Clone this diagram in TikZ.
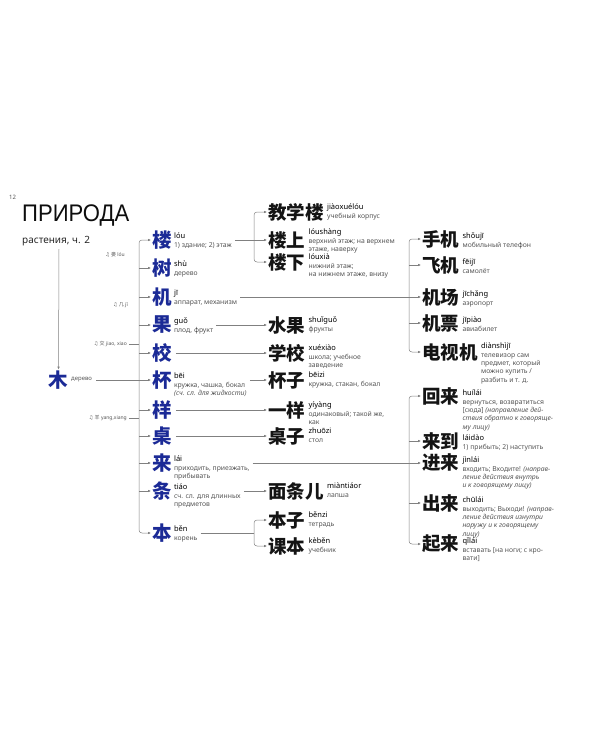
\documentclass[tikz,border=0pt]{standalone}
\usepackage{fontspec}
\setmainfont{Noto Sans}
\newfontfamily\cjk{Noto Sans CJK SC}
\newfontfamily\symf{DejaVu Sans}
\newfontfamily\titlef[FakeStretch=0.92]{Liberation Sans}
\usetikzlibrary{arrows.meta,calc}
\definecolor{zblue}{HTML}{1B2A96}
\definecolor{gtext}{HTML}{555555}
\definecolor{lgray}{HTML}{808080}
\newcommand{\py}[1]{{\color{black}\fontsize{7.5}{8.3}\selectfont #1}}
\newcommand{\note}{{\symf ♫}}
\begin{document}
\begin{tikzpicture}[x=1pt,y=-1pt,
  lc/.style={font=\cjk\bfseries\fontsize{19.5}{20}\selectfont, text=zblue, inner sep=0pt, anchor=west},
  mc/.style={font=\cjk\bfseries\fontsize{18.5}{18.5}\selectfont, text=black!92, inner sep=0pt, anchor=west},
  gl/.style={anchor=north west, inner sep=0pt, align=left, text=gtext, font=\fontsize{6.8}{8.3}\selectfont},
  conn/.style={draw=lgray, line width=0.5pt},
  arr/.style={-{Latex[length=3pt,width=2.6pt]}, shorten >=1pt},
  rc/.style={rounded corners=3pt},
  ann/.style={anchor=east, inner sep=0pt, text=gtext, font=\fontsize{5}{6}\selectfont}]
\useasboundingbox (0,0) rectangle (600,750);

% header
\node[anchor=base west, inner sep=0pt, text=gtext, font=\fontsize{6}{6}\selectfont] (pnum) at (9,199) {12};
\node[anchor=north west, inner sep=0pt, text=black!95, font=\titlef\fontsize{24}{24}\selectfont] (title) at (22,205) {ПРИРОДА};
\node[anchor=base west, inner sep=0pt, text=black!85, font=\fontsize{10}{10}\selectfont] (sub) at (22,243) {растения, ч. 2};

% root
\node[lc, anchor=center] (mu) at (58.5,380) {木};
\node[anchor=west, inner sep=0pt, text=gtext, font=\fontsize{6}{6}\selectfont] (dg) at (71,380) {дерево};
\coordinate (tstart) at (59,249);

% left column
\node[lc] (lou) at (152,240) {楼};
\node[lc] (shu) at (152,268) {树};
\node[lc] (ji) at (152,297) {机};
\node[lc] (guo) at (152,325) {果};
\node[lc] (xiao) at (152,353) {校};
\node[lc] (bei) at (152,380) {杯};
\node[lc] (yang) at (152,410) {样};
\node[lc] (zhuo) at (152,436) {桌};
\node[lc] (lai) at (152,463) {来};
\node[lc] (tiao) at (152,491) {条};
\node[lc] (ben) at (152,533) {本};

\node[gl] (glou) at ($(lou.east)+(2,-7)$) {\py{lóu}\\1) здание; 2) этаж};
\node[gl] (gshu) at ($(shu.east)+(2,-7)$) {\py{shù}\\дерево};
\node[gl] (gji) at ($(ji.east)+(2,-7)$) {\py{jī}\\аппарат, механизм};
\node[gl] (gguo) at ($(guo.east)+(2,-7)$) {\py{guǒ}\\плод, фрукт};
\node[gl] (gbei) at ($(bei.east)+(2,-7)$) {\py{bēi}\\кружка, чашка, бокал\\\textit{(сч. сл. для жидкости)}};
\node[gl] (glai) at ($(lai.east)+(2,-7)$) {\py{lái}\\приходить, приезжать,\\прибывать};
\node[gl] (gtiao) at ($(tiao.east)+(2,-7)$) {\py{tiáo}\\сч. сл. для длинных\\предметов};
\node[gl] (gben) at ($(ben.east)+(2,-7)$) {\py{běn}\\корень};

% phonetic notes
\node[ann] (alou) at (125,255) {\note\ {\cjk 娄} lóu};
\node[ann] (aji) at (128,305) {\note\ {\cjk 几} jī};
\node[ann] (ajiao) at (127,344) {\note\ {\cjk 交} jiao, xiao};
\node[ann] (ayang) at (127,418) {\note\ {\cjk 羊} yang,xiang};

% middle column
\node[mc] (jxl) at (268,212) {教学楼};
\node[mc] (lsh) at (268,240) {楼上};
\node[mc] (lx) at (268,262) {楼下};
\node[mc] (sg) at (268,325) {水果};
\node[mc] (xx) at (268,353) {学校};
\node[mc] (bz) at (268,380) {杯子};
\node[mc] (yy) at (268,410) {一样};
\node[mc] (zz) at (268,436) {桌子};
\node[mc] (mt) at (268,491) {面条儿};
\node[mc] (bzi) at (268,520) {本子};
\node[mc] (kb) at (268,546) {课本};

\node[gl] (gjxl) at ($(jxl.east)+(3,-8)$) {\py{jiàoxuélóu}\\учебный корпус};
\node[gl] (glsh) at ($(lsh.east)+(3,-11)$) {\py{lóushàng}\\верхний этаж; на верхнем\\этаже, наверху};
\node[gl] (glx) at ($(lx.east)+(3,-8)$) {\py{lóuxià}\\нижний этаж;\\на нижнем этаже, внизу};
\node[gl] (gsg) at ($(sg.east)+(3,-8)$) {\py{shuǐguǒ}\\фрукты};
\node[gl] (gxx) at ($(xx.east)+(3,-8)$) {\py{xuéxiào}\\школа; учебное\\заведение};
\node[gl] (gbz) at ($(bz.east)+(3,-8)$) {\py{bēizi}\\кружка, стакан, бокал};
\node[gl] (gyy) at ($(yy.east)+(3,-8)$) {\py{yíyàng}\\одинаковый; такой же,\\как};
\node[gl] (gzz) at ($(zz.east)+(3,-8)$) {\py{zhuōzi}\\стол};
\node[gl] (gmt) at ($(mt.east)+(3,-8)$) {\py{miàntiáor}\\лапша};
\node[gl] (gbzi) at ($(bzi.east)+(3,-8)$) {\py{běnzi}\\тетрадь};
\node[gl] (gkb) at ($(kb.east)+(3,-8)$) {\py{kèběn}\\учебник};

% right column
\node[mc] (sj) at (422,239) {手机};
\node[mc] (fj) at (422,265) {飞机};
\node[mc] (jc) at (422,297) {机场};
\node[mc] (jp) at (422,323) {机票};
\node[mc] (dsj) at (422,352) {电视机};
\node[mc] (hl) at (422,396) {回来};
\node[mc] (ld) at (422,441) {来到};
\node[mc] (jl) at (422,463) {进来};
\node[mc] (cl) at (422,503) {出来};
\node[mc] (ql) at (422,544) {起来};

\node[gl] (gsj) at ($(sj.east)+(3,-6)$) {\py{shǒujī}\\мобильный телефон};
\node[gl] (gfj) at ($(fj.east)+(3,-6)$) {\py{fēijī}\\самолёт};
\node[gl] (gjc) at ($(jc.east)+(3,-6)$) {\py{jīchǎng}\\аэропорт};
\node[gl] (gjp) at ($(jp.east)+(3,-6)$) {\py{jīpiào}\\авиабилет};
\node[gl] (gdsj) at ($(dsj.east)+(3,-9)$) {\py{diànshìjī}\\телевизор сам\\предмет, который\\можно купить /\\разбить и т. д.};
\node[gl] (ghl) at ($(hl.east)+(3,-6)$) {\py{huílái}\\вернуться, возвратиться\\{}[сюда] \textit{(направление дей-}\\\textit{ствия обратно к говоряще-}\\\textit{му лицу)}};
\node[gl] (gld) at ($(ld.east)+(3,-6)$) {\py{láidào}\\1) прибыть; 2) наступить};
\node[gl] (gjl) at ($(jl.east)+(3,-6)$) {\py{jìnlái}\\входить; Входите! \textit{(направ-}\\\textit{ление действия внутрь}\\\textit{и к говорящему лицу)}};
\node[gl] (gcl) at ($(cl.east)+(3,-6)$) {\py{chūlái}\\выходить; Выходи! \textit{(направ-}\\\textit{ление действия изнутри}\\\textit{наружу и к говорящему}\\\textit{лицу)}};
\node[gl] (gql) at ($(ql.east)+(3,-6)$) {\py{qǐlái}\\вставать [на ноги; с кро-\\вати]};

% bracket junctions
\coordinate (LB) at (139,380);
\coordinate (MB1) at (254,240);
\coordinate (MB2) at (254,533);
\coordinate (RB1) at (409,297);
\coordinate (RB2) at (409,463);

% connectors: root
\draw[conn,arr] (tstart) -- (mu.north);
\draw[conn,arr] (dg.east) ++(4,0) -- (bei.west);

% left bracket
\draw[conn,arr,rc] (LB) |- (lou.west);
\draw[conn,arr,rc] (LB) |- (ben.west);
\foreach \n in {shu,ji,guo,xiao,yang,zhuo,lai,tiao}
  \draw[conn,arr] (LB |- \n.west) -- (\n.west);
\draw[conn] (ajiao.east) ++(2,0) -- (LB |- ajiao.east);
\draw[conn] (ayang.east) ++(2,0) -- (LB |- ayang.east);

% left to middle
\draw[conn,arr] (glou.east |- lou.west) ++(3,0) -- (lsh.west);
\draw[conn,arr,rc] (MB1) |- (jxl.west);
\draw[conn,arr,rc] (MB1) |- (lx.west);
\draw[conn,arr] (gguo.east |- guo.west) ++(3,0) -- (sg.west);
\draw[conn,arr] (xiao.east) ++(4,0) -- (xx.west);
\draw[conn,arr] (gbei.east |- bei.west) ++(3,0) -- (bz.west);
\draw[conn,arr] (yang.east) ++(4,0) -- (yy.west);
\draw[conn,arr] (zhuo.east) ++(4,0) -- (zz.west);
\draw[conn,arr] (gtiao.east |- tiao.west) ++(3,0) -- (mt.west);
\draw[conn] (gben.east |- ben.west) ++(3,0) -- (MB2);
\draw[conn,arr,rc] (MB2) |- (bzi.west);
\draw[conn,arr,rc] (MB2) |- (kb.west);

% to right
\draw[conn,arr] (gji.east |- ji.west) ++(3,0) -- (jc.west);
\draw[conn,arr,rc] (RB1) |- (sj.west);
\draw[conn,arr,rc] (RB1) |- (dsj.west);
\draw[conn,arr] (RB1 |- fj.west) -- (fj.west);
\draw[conn,arr] (RB1 |- jp.west) -- (jp.west);

\draw[conn,arr] (glai.east |- lai.west) ++(3,0) -- (jl.west);
\draw[conn,arr,rc] (RB2) |- (hl.west);
\draw[conn,arr,rc] (RB2) |- (ql.west);
\draw[conn,arr] (RB2 |- ld.west) -- (ld.west);
\draw[conn,arr] (RB2 |- cl.west) -- (cl.west);
\end{tikzpicture}
\end{document}
